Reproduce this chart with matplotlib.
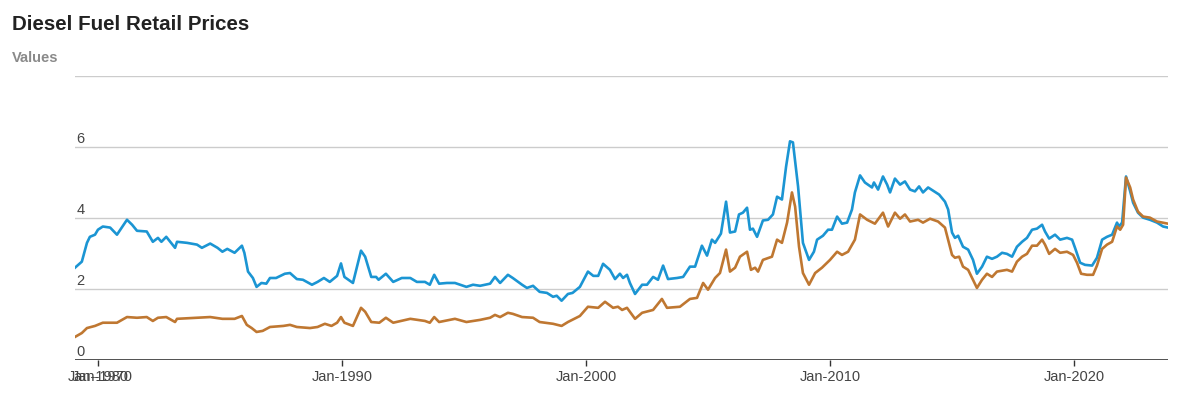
#!/usr/bin/env python3
"""Diesel fuel retail prices, two series, redrawn as a line chart."""

import matplotlib
matplotlib.use("Agg")
import matplotlib.pyplot as plt

plt.rcParams["font.family"] = ["Liberation Sans", "DejaVu Sans"]

# Series values: (decimal year, $/gal)
BLUE_POINTS = [
    (1979.06, 2.60), (1979.34, 2.77), (1979.55, 3.30), (1979.67, 3.47), (1979.88, 3.53),
    (1980.0, 3.67), (1980.2, 3.76), (1980.5, 3.73), (1980.78, 3.53), (1981.19, 3.95),
    (1981.4, 3.81), (1981.6, 3.64), (1982.0, 3.62), (1982.25, 3.33), (1982.46, 3.44),
    (1982.6, 3.33), (1982.8, 3.47), (1983.16, 3.16), (1983.24, 3.33), (1983.65, 3.30),
    (1984.06, 3.25), (1984.26, 3.16), (1984.6, 3.28), (1984.9, 3.16), (1985.1, 3.05),
    (1985.3, 3.13), (1985.6, 3.02), (1985.9, 3.22), (1986.0, 3.02), (1986.15, 2.49),
    (1986.35, 2.31), (1986.5, 2.06), (1986.7, 2.17), (1986.9, 2.15), (1987.05, 2.31),
    (1987.3, 2.31), (1987.66, 2.43), (1987.87, 2.45), (1988.15, 2.28), (1988.4, 2.26),
    (1988.77, 2.12), (1989.0, 2.20), (1989.26, 2.31), (1989.5, 2.20), (1989.8, 2.37),
    (1989.96, 2.72), (1990.1, 2.34), (1990.45, 2.17), (1990.78, 3.08), (1990.95, 2.91),
    (1991.2, 2.34), (1991.4, 2.34), (1991.5, 2.26), (1991.8, 2.43), (1992.1, 2.20),
    (1992.45, 2.31), (1992.8, 2.31), (1993.07, 2.20), (1993.4, 2.20), (1993.6, 2.12),
    (1993.78, 2.40), (1993.98, 2.15), (1994.3, 2.17), (1994.63, 2.17), (1995.1, 2.06),
    (1995.37, 2.12), (1995.66, 2.09), (1996.07, 2.15), (1996.27, 2.34), (1996.48, 2.17),
    (1996.8, 2.40), (1997.0, 2.31), (1997.38, 2.12), (1997.58, 2.03), (1997.83, 2.09),
    (1998.1, 1.92), (1998.4, 1.89), (1998.65, 1.78), (1998.8, 1.81), (1999.0, 1.67),
    (1999.26, 1.86), (1999.45, 1.89), (1999.75, 2.06), (2000.08, 2.49), (2000.3, 2.37),
    (2000.5, 2.37), (2000.70, 2.71), (2000.98, 2.54), (2001.19, 2.28), (2001.39, 2.43),
    (2001.52, 2.31), (2001.68, 2.40), (2001.80, 2.17), (2002.01, 1.86), (2002.30, 2.12),
    (2002.50, 2.12), (2002.75, 2.34), (2002.95, 2.26), (2003.16, 2.66), (2003.36, 2.28),
    (2003.73, 2.31), (2003.98, 2.34), (2004.26, 2.63), (2004.47, 2.63), (2004.75, 3.22),
    (2004.96, 2.94), (2005.16, 3.39), (2005.29, 3.30), (2005.53, 3.56), (2005.74, 4.46),
    (2005.90, 3.59), (2006.11, 3.62), (2006.27, 4.10), (2006.43, 4.15), (2006.60, 4.29),
    (2006.72, 3.67), (2006.84, 3.70), (2007.01, 3.47), (2007.25, 3.93), (2007.46, 3.95),
    (2007.66, 4.10), (2007.83, 4.60), (2008.03, 4.52), (2008.20, 5.45), (2008.36, 6.16),
    (2008.48, 6.13), (2008.69, 4.89), (2008.89, 3.30), (2009.14, 2.82), (2009.34, 3.05),
    (2009.47, 3.39), (2009.71, 3.50), (2009.92, 3.67), (2010.08, 3.67), (2010.29, 4.04),
    (2010.49, 3.84), (2010.70, 3.87), (2010.90, 4.24), (2011.02, 4.72), (2011.23, 5.20),
    (2011.43, 5.00), (2011.72, 4.86), (2011.80, 5.00), (2011.97, 4.80), (2012.17, 5.17),
    (2012.34, 4.94), (2012.46, 4.72), (2012.66, 5.11), (2012.87, 4.94), (2013.07, 5.03),
    (2013.28, 4.80), (2013.48, 4.75), (2013.65, 4.89), (2013.81, 4.72), (2014.02, 4.86),
    (2014.22, 4.77), (2014.47, 4.66), (2014.71, 4.46), (2014.84, 4.24), (2015.00, 3.59),
    (2015.12, 3.44), (2015.25, 3.50), (2015.45, 3.19), (2015.66, 3.11), (2015.86, 2.82),
    (2016.02, 2.43), (2016.23, 2.63), (2016.43, 2.91), (2016.64, 2.85), (2016.84, 2.91),
    (2017.05, 3.02), (2017.25, 2.99), (2017.46, 2.91), (2017.66, 3.19), (2017.87, 3.33),
    (2018.07, 3.44), (2018.28, 3.67), (2018.48, 3.70), (2018.69, 3.81), (2018.81, 3.62),
    (2018.98, 3.42), (2019.22, 3.53), (2019.43, 3.39), (2019.71, 3.44), (2019.92, 3.39),
    (2020.04, 3.16), (2020.25, 2.74), (2020.45, 2.68), (2020.74, 2.66), (2020.94, 2.88),
    (2021.15, 3.39), (2021.35, 3.47), (2021.56, 3.53), (2021.76, 3.87), (2021.84, 3.76),
    (2021.97, 3.87), (2022.13, 5.17), (2022.30, 4.75), (2022.42, 4.43), (2022.62, 4.15),
    (2022.83, 4.01), (2023.11, 3.95), (2023.40, 3.87), (2023.65, 3.76), (2023.85, 3.73),
]

ORANGE_POINTS = [
    (1979.06, 0.65), (1979.34, 0.76), (1979.55, 0.90), (1979.88, 0.96), (1980.2, 1.05),
    (1980.78, 1.05), (1981.19, 1.21), (1981.6, 1.19), (1982.0, 1.21), (1982.25, 1.10),
    (1982.46, 1.19), (1982.8, 1.21), (1983.16, 1.07), (1983.24, 1.16), (1984.06, 1.19),
    (1984.6, 1.21), (1985.1, 1.16), (1985.6, 1.16), (1985.9, 1.24), (1986.1, 0.99),
    (1986.3, 0.90), (1986.5, 0.79), (1986.75, 0.82), (1987.05, 0.93), (1987.6, 0.96),
    (1987.87, 0.99), (1988.15, 0.93), (1988.69, 0.90), (1989.0, 0.93), (1989.3, 1.02),
    (1989.57, 0.96), (1989.8, 1.05), (1989.96, 1.21), (1990.1, 1.05), (1990.45, 0.96),
    (1990.78, 1.47), (1990.95, 1.36), (1991.2, 1.07), (1991.53, 1.05), (1991.8, 1.19),
    (1992.1, 1.05), (1992.8, 1.16), (1993.4, 1.10), (1993.6, 1.05), (1993.78, 1.21),
    (1993.98, 1.07), (1994.63, 1.16), (1995.1, 1.07), (1995.66, 1.13), (1996.07, 1.19),
    (1996.27, 1.27), (1996.48, 1.21), (1996.8, 1.33), (1997.0, 1.30), (1997.38, 1.21),
    (1997.83, 1.19), (1998.1, 1.07), (1998.65, 1.02), (1999.0, 0.96), (1999.26, 1.07),
    (1999.75, 1.24), (2000.08, 1.50), (2000.5, 1.47), (2000.78, 1.64), (2001.11, 1.47),
    (2001.31, 1.50), (2001.48, 1.41), (2001.68, 1.47), (2002.01, 1.16), (2002.30, 1.33),
    (2002.75, 1.41), (2003.11, 1.72), (2003.32, 1.47), (2003.85, 1.50), (2004.26, 1.72),
    (2004.55, 1.75), (2004.80, 2.17), (2005.00, 1.98), (2005.29, 2.31), (2005.49, 2.45),
    (2005.74, 3.11), (2005.90, 2.49), (2006.11, 2.60), (2006.31, 2.91), (2006.60, 3.05),
    (2006.76, 2.54), (2006.93, 2.60), (2007.05, 2.49), (2007.25, 2.82), (2007.62, 2.91),
    (2007.83, 3.39), (2008.03, 3.30), (2008.24, 3.87), (2008.44, 4.72), (2008.57, 4.32),
    (2008.73, 3.19), (2008.89, 2.45), (2009.14, 2.12), (2009.39, 2.45), (2009.67, 2.60),
    (2010.00, 2.82), (2010.29, 3.05), (2010.49, 2.96), (2010.74, 3.05), (2011.02, 3.39),
    (2011.23, 4.10), (2011.52, 3.95), (2011.84, 3.84), (2012.17, 4.15), (2012.38, 3.76),
    (2012.66, 4.15), (2012.87, 3.98), (2013.07, 4.10), (2013.28, 3.90), (2013.61, 3.95),
    (2013.81, 3.87), (2014.10, 3.98), (2014.43, 3.90), (2014.71, 3.73), (2014.84, 3.39),
    (2015.00, 2.96), (2015.12, 2.88), (2015.29, 2.91), (2015.45, 2.63), (2015.66, 2.54),
    (2015.86, 2.26), (2016.02, 2.03), (2016.23, 2.26), (2016.43, 2.43), (2016.64, 2.34),
    (2016.84, 2.49), (2017.25, 2.54), (2017.46, 2.49), (2017.66, 2.77), (2017.87, 2.91),
    (2018.07, 2.99), (2018.28, 3.22), (2018.48, 3.22), (2018.69, 3.39), (2018.81, 3.25),
    (2018.98, 2.99), (2019.22, 3.13), (2019.43, 3.02), (2019.71, 3.05), (2019.96, 2.96),
    (2020.12, 2.74), (2020.29, 2.43), (2020.53, 2.40), (2020.78, 2.40), (2020.94, 2.66),
    (2021.15, 3.13), (2021.35, 3.25), (2021.56, 3.33), (2021.76, 3.76), (2021.89, 3.67),
    (2022.01, 3.81), (2022.13, 5.14), (2022.30, 4.86), (2022.42, 4.52), (2022.62, 4.18),
    (2022.83, 4.04), (2023.11, 4.01), (2023.40, 3.90), (2023.85, 3.84),
]

BLUE_YEARS = [p[0] for p in BLUE_POINTS]
BLUE_VALUES = [p[1] for p in BLUE_POINTS]
ORANGE_YEARS = [p[0] for p in ORANGE_POINTS]
ORANGE_VALUES = [p[1] for p in ORANGE_POINTS]

TICK_YEARS = [1980, 1990, 2000, 2010, 2020]
TICK_LABELS = ["Jan-1980", "Jan-1990", "Jan-2000", "Jan-2010", "Jan-2020"]
Y_TICKS = [0, 2, 4, 6]

BLUE = "#1b95d3"
ORANGE = "#bf7731"
GRID = "#cccccc"
TEXT = "#444444"


def main():
    fig = plt.figure(figsize=(11.77, 3.94), dpi=100)
    ax = fig.add_axes([75 / 1177, 34 / 394, (1168 - 75) / 1177, (360 - 76) / 394])

    ax.plot(BLUE_YEARS, BLUE_VALUES, color=BLUE, linewidth=1.9, solid_joinstyle="round", zorder=3)
    ax.plot(ORANGE_YEARS, ORANGE_VALUES, color=ORANGE, linewidth=1.9, solid_joinstyle="round", zorder=4)

    ax.set_xlim(1979.06, 2023.85)
    ax.set_ylim(0, 8)

    # horizontal grid, top line at 8 has no label
    for y in [2, 4, 6, 8]:
        ax.axhline(y, color=GRID, linewidth=1.0, zorder=1)
    ax.axhline(0, color="#333333", linewidth=1.2, zorder=5)

    for spine in ax.spines.values():
        spine.set_visible(False)

    ax.set_yticks([])
    for y in Y_TICKS:
        ax.annotate(str(y), xy=(0, y), xycoords=("axes fraction", "data"),
                    xytext=(1, 1), textcoords="offset points",
                    ha="left", va="bottom", fontsize=10.5, color=TEXT)

    ax.set_xticks(TICK_YEARS)
    ax.set_xticklabels(TICK_LABELS, fontsize=10.5, color=TEXT)
    ax.tick_params(axis="x", length=4, width=1, color="#333333", pad=3)
    # overlapping start label as in the reference
    ax.annotate("Jan-1970", xy=(1980, 0), xycoords="data", xytext=(3, -7),
                textcoords="offset points", ha="center", va="top", fontsize=10.5, color=TEXT)

    fig.text(12 / 1177, 1 - 24 / 394, "Diesel Fuel Retail Prices", fontsize=14.8,
             fontweight="bold", color="#222222", ha="left", va="center")
    fig.text(12 / 1177, 1 - 58 / 394, "Values", fontsize=10.5, fontweight="bold",
             color="#8a8a8a", ha="left", va="center")

    fig.savefig("out.png", dpi=100)
    plt.close(fig)


if __name__ == "__main__":
    main()
